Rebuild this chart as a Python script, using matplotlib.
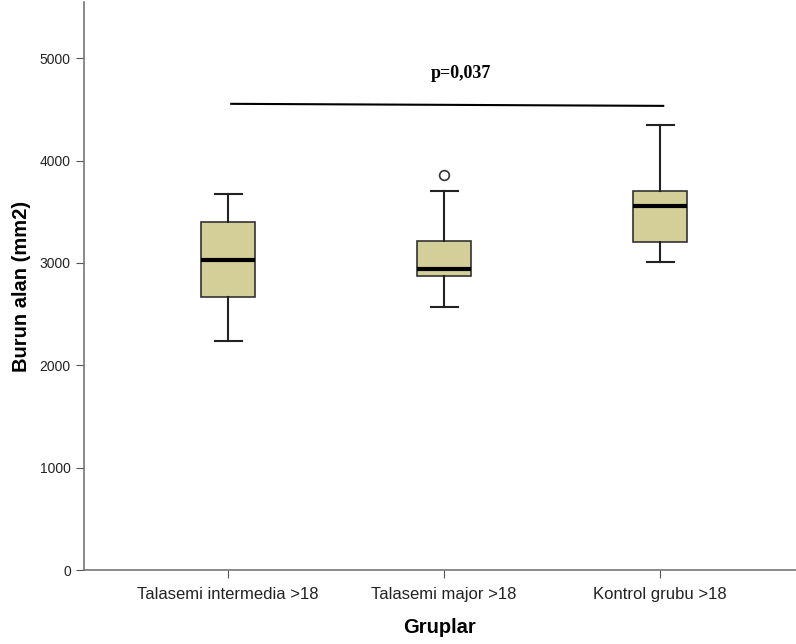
import matplotlib
matplotlib.use('Agg')
import matplotlib.pyplot as plt

plt.rcParams['font.family'] = ['Liberation Sans', 'DejaVu Sans']

groups = ['Talasemi intermedia >18', 'Talasemi major >18', 'Kontrol grubu >18']
whislo = [2240, 2570, 3010]
q1 = [2670, 2875, 3205]
med = [3030, 2945, 3560]
q3 = [3400, 3215, 3705]
whishi = [3675, 3700, 4345]
fliers = [[], [3860], []]
p_text = 'p=0,037'
p_line = [4555, 4535]

stats = []
for i in range(3):
    stats.append(dict(label=groups[i], whislo=whislo[i], q1=q1[i], med=med[i],
                      q3=q3[i], whishi=whishi[i], fliers=fliers[i]))

fig = plt.figure(figsize=(7.96, 6.44), dpi=100)
ax = fig.add_axes([84/796, 74/644, 712/796, 568/644])

ax.bxp(stats, positions=[1, 2, 3], widths=0.25, patch_artist=True, capwidths=0.125,
       boxprops=dict(facecolor='#d4cf98', edgecolor='#333333', linewidth=1.2),
       medianprops=dict(color='black', linewidth=3),
       whiskerprops=dict(color='#222222', linewidth=1.5),
       capprops=dict(color='#222222', linewidth=1.5),
       flierprops=dict(marker='o', markerfacecolor='white', markeredgecolor='#333333',
                       markersize=7, markeredgewidth=1.2))

ax.plot([1.015, 3.015], p_line, color='black', linewidth=1.5)
ax.text(2.08, 4848, p_text, ha='center', va='center', fontsize=13,
        fontweight='bold', family='Liberation Serif')

ax.set_xlim(1 - 144/216, 3 + 136/216)
ax.set_ylim(0, 5550)
ax.set_yticks([0, 1000, 2000, 3000, 4000, 5000])
ax.set_xticks([1, 2, 3])
ax.set_xticklabels(groups, fontsize=12, color='#222222')
ax.tick_params(axis='y', labelsize=10, length=6, color='#555555', labelcolor='#222222')
ax.tick_params(axis='x', length=6, color='#555555', pad=6)

for s in ['top', 'right']:
    ax.spines[s].set_visible(False)
for s in ['left', 'bottom']:
    ax.spines[s].set_color('#777777')
    ax.spines[s].set_linewidth(1.2)

ax.set_ylabel('Burun alan (mm2)', fontsize=14.5, fontweight='bold', labelpad=6)
ax.set_xlabel('Gruplar', fontsize=14.5, fontweight='bold', labelpad=12)

fig.savefig('out.png', dpi=100)
